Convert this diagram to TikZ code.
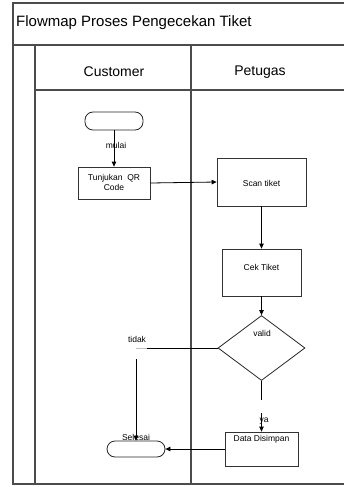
\documentclass[tikz,border=0pt]{standalone}
\usepackage{fontspec}
\setmainfont{Liberation Sans}
\usetikzlibrary{arrows.meta,shapes.geometric}

\tikzset{
  lane/.style={draw=black!70,line width=1.2pt},
  proc/.style={draw=black!80,line width=0.8pt,minimum width=#1,inner sep=0pt},
  term/.style={draw=black!85,line width=0.8pt,rounded corners=8pt,minimum width=58pt,inner sep=0pt},
  dec/.style={draw=black!85,line width=0.8pt,diamond,inner sep=0pt,minimum width=87pt,minimum height=65pt},
  txt/.style={font=\fontsize{8.5}{10}\selectfont,inner sep=0pt,align=center},
  flow/.style={line width=0.8pt,-{Triangle[length=5pt,width=4.5pt]}},
  link/.style={line width=0.8pt}
}

\begin{document}
\begin{tikzpicture}[x=1pt,y=-1pt]
  \useasboundingbox (0,0) rectangle (343,487);
  % pool and lanes
  \draw[lane] (13,3) rectangle (346,484);
  \draw[lane] (13,45) -- (346,45);
  \draw[lane] (35,45) -- (35,484);
  \draw[lane] (35,90) -- (346,90);
  \draw[lane] (191,45) -- (191,484);
  \node[anchor=west,inner sep=0pt,font=\fontsize{15}{17}\selectfont] (title) at (16,23) {Flowmap Proses Pengecekan Tiket};
  \node[inner sep=0pt,font=\fontsize{14}{16}\selectfont] (cust) at (114,72) {Customer};
  \node[inner sep=0pt,font=\fontsize{14}{16}\selectfont] (pet) at (260,72) {Petugas};
  % shapes
  \node[term,minimum height=18pt] (start) at (114,121) {};
  \node[proc=72pt,minimum height=32pt] (qr) at (114,183) {};
  \node[proc=89pt,minimum height=48pt] (scan) at (261.5,182) {};
  \node[proc=79pt,minimum height=47pt] (cek) at (261.5,272.5) {};
  \node[dec] (valid) at (261.5,348) {};
  \node[proc=73pt,minimum height=34pt] (data) at (261.5,449) {};
  \node[term,minimum height=16pt] (selesai) at (136,449) {};
  % texts
  \node[txt] (tqr) at (114,182.5) {Tunjukan\ \ QR\\Code};
  \node[txt] (tscan) at (261.5,183) {Scan\ tiket};
  \node[txt] (tcek) at (261.5,267) {Cek Tiket};
  \node[txt] (tvalid) at (262,333) {valid};
  \node[txt] (tdata) at (261.5,439) {Data Disimpan};
  \node[txt] (tselesai) at (136,437) {Selesai};
  \node[txt] (tmulai) at (116,145) {mulai};
  \node[txt] (tya) at (264,421) {ya};
  \node[txt] (ttidak) at (137,339) {tidak};
  % connectors
  \coordinate (yaA) at (261.5,400);
  \coordinate (yaB) at (261.5,413);
  \coordinate (tdkA) at (147,348);
  \coordinate (tdkC) at (136,348);
  \coordinate (tdkB) at (136,359);
  \draw[flow] (start) -- (qr);
  \draw[flow] (qr.east) -- (scan.west);
  \draw[flow] (scan) -- (cek);
  \draw[flow] (cek) -- (valid);
  \draw[link] (valid.south) -- (yaA);
  \draw[flow] (yaB) -- (data.north);
  \draw[link] (valid.west) -- (tdkA);
  \draw[black!25,line width=0.6pt] (tdkA) -- (tdkC);
  \draw[flow] (tdkB) -- (selesai.north);
  \draw[flow] (data.west) -- (selesai.east);
\end{tikzpicture}
\end{document}
